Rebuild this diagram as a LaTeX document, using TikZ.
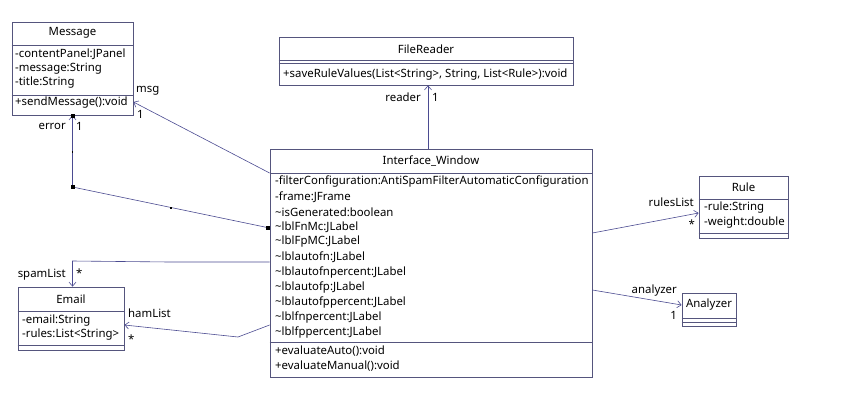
\documentclass[tikz,border=0pt]{standalone}
\usepackage{fontspec}
\setmainfont{Noto Sans}
\usetikzlibrary{arrows.meta}
\definecolor{boxcol}{RGB}{85,85,125}
\definecolor{linecol}{RGB}{75,75,145}
\begin{document}
\begin{tikzpicture}[x=1pt,y=1pt,
  font=\fontsize{11.4}{13}\selectfont,
  classbox/.style={draw=boxcol,fill=white,line width=0.8pt},
  member/.style={anchor=west},
  assoc/.style={draw=linecol,line width=0.6pt,-{Straight Barb[length=4pt,width=7pt]}},
  joint/.style={fill=black,minimum size=4pt},
  bendpoint/.style={fill=black,minimum size=1.6pt}]
\tikzstyle{every node}+=[inner sep=0pt]
\useasboundingbox (0,0) rectangle (842,-405);
\node[classbox,minimum width=121pt,minimum height=93pt] (message) at (72.5,-68.5) {};
\draw[boxcol] (message.west |- 0,-45) -- (message.east |- 0,-45);
\draw[boxcol] (message.west |- 0,-95) -- (message.east |- 0,-95);
\node (messaget) at (72.5,-33) {Message};
\node[member] (messagea1) at (15,-54) {-contentPanel:JPanel};
\node[member] (messagea2) at (15,-69) {-message:String};
\node[member] (messagea3) at (15,-83) {-title:String};
\node[member] (messageo1) at (15,-103) {+sendMessage():void};
\node[classbox,minimum width=294pt,minimum height=48pt] (reader) at (426,-61) {};
\draw[boxcol] (reader.west |- 0,-60) -- (reader.east |- 0,-60);
\draw[boxcol] (reader.west |- 0,-63) -- (reader.east |- 0,-63);
\node (readert) at (426,-49) {FileReader};
\node[member] (readero1) at (283,-75) {+saveRuleValues(List<String>, String, List<Rule>):void};
\node[classbox,minimum width=322pt,minimum height=228pt] (iw) at (431,-263) {};
\draw[boxcol] (iw.west |- 0,-173) -- (iw.east |- 0,-173);
\draw[boxcol] (iw.west |- 0,-342) -- (iw.east |- 0,-342);
\node (iwt) at (431,-161) {Interface\_Window};
\foreach \t [count=\i] in {-filterConfiguration:AntiSpamFilterAutomaticConfiguration,
  -frame:JFrame, \textasciitilde isGenerated:boolean, \textasciitilde lblFnMc:JLabel,
  \textasciitilde lblFpMC:JLabel, \textasciitilde lblautofn:JLabel,
  \textasciitilde lblautofnpercent:JLabel, \textasciitilde lblautofp:JLabel,
  \textasciitilde lblautofppercent:JLabel, \textasciitilde lblfnpercent:JLabel,
  \textasciitilde lblfppercent:JLabel}
  \node[member] (iwa\i) at (275,-167-15*\i) {\t};
\node[member] (iwo1) at (275,-351) {+evaluateAuto():void};
\node[member] (iwo2) at (275,-366) {+evaluateManual():void};
\node[classbox,minimum width=89pt,minimum height=62pt] (rule) at (743.5,-207) {};
\draw[boxcol] (rule.west |- 0,-199) -- (rule.east |- 0,-199);
\draw[boxcol] (rule.west |- 0,-233) -- (rule.east |- 0,-233);
\node (rulet) at (743.5,-187) {Rule};
\node[member] (rulea1) at (704,-208) {-rule:String};
\node[member] (rulea2) at (704,-223) {-weight:double};
\node[classbox,minimum width=54pt,minimum height=33pt] (analyzer) at (709,-309.5) {};
\draw[boxcol] (analyzer.west |- 0,-318) -- (analyzer.east |- 0,-318);
\draw[boxcol] (analyzer.west |- 0,-322) -- (analyzer.east |- 0,-322);
\node (analyzert) at (709,-305) {Analyzer};
\node[classbox,minimum width=106pt,minimum height=63pt] (email) at (71,-318.5) {};
\draw[boxcol] (email.west |- 0,-311) -- (email.east |- 0,-311);
\draw[boxcol] (email.west |- 0,-345) -- (email.east |- 0,-345);
\node (emailt) at (71,-299) {Email};
\node[member] (emaila1) at (22,-321) {-email:String};
\node[member] (emaila2) at (22,-335) {-rules:List<String>};
\draw[assoc] (iw.north -| 428,0) -- (reader.south -| 428,0);
\node[anchor=east] (readerl) at (421,-97) {reader};
\node[anchor=west] (readerm) at (432,-97) {1};
\draw[assoc] (iw.west |- 0,-173) -- (message.east |- 0,-102);
\node[anchor=west] (msgl) at (136,-91) {msg};
\node[anchor=west] (msgm) at (137,-114) {1};
\draw[assoc] (iw.west |- 0,-228) -- (72.5,-187) -- (message.south);
\node[joint] (errorj1) at (72.5,-116) {};
\node[bendpoint] (errorj2) at (72.5,-152) {};
\node[joint] (errorj3) at (72.5,-187) {};
\node[bendpoint] (errorj4) at (171,-208) {};
\node[joint] (errorj5) at (268,-228) {};
\node[anchor=east] (errorl) at (66,-126) {error};
\node[anchor=west] (errorm) at (76,-126) {1};
\draw[assoc] (iw.west |- 0,-262) -- (170,-262) -- (72.5,-261) -- (email.north -| 72.5,0);
\node[anchor=east] (spaml) at (66,-275) {spamList};
\node[anchor=west] (spamm) at (76,-273) {*};
\draw[assoc] (iw.west |- 0,-325) -- (238,-337) -- (email.east |- 0,-325);
\node[anchor=west] (haml) at (128,-313) {hamList};
\node[anchor=west] (hamm) at (128,-339) {*};
\draw[assoc] (iw.east |- 0,-233) -- (rule.west |- 0,-213);
\node[anchor=east] (rulesl) at (694,-202) {rulesList};
\node[anchor=east] (rulesm) at (695,-224) {*};
\draw[assoc] (iw.east |- 0,-290) -- (analyzer.west |- 0,-305);
\node[anchor=east] (analyzerl) at (677,-291) {analyzer};
\node[anchor=east] (analyzerm) at (677,-315) {1};
\end{tikzpicture}
\end{document}
